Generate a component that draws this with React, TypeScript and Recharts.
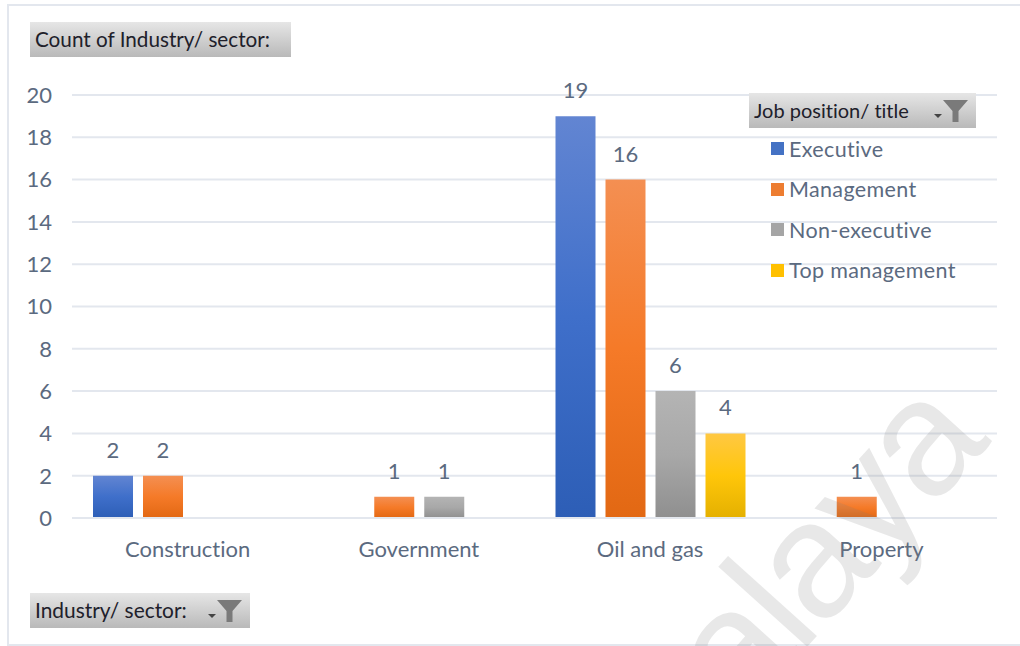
import { BarChart, Bar, XAxis, YAxis, CartesianGrid, LabelList } from 'recharts';

const categories = ['Construction', 'Government', 'Oil and gas', 'Property'];
const executive = [2, null, 19, null];
const management = [2, 1, 16, 1];
const nonExecutive = [null, 1, 6, null];
const topManagement = [null, null, 4, null];
const yTicks = [0, 2, 4, 6, 8, 10, 12, 14, 16, 18, 20];

const series = [
  { key: 'executive', label: 'Executive', values: executive, stops: ['#6285d2', '#3f6fca', '#2d5eb6'], swatch: '#4472c4' },
  { key: 'management', label: 'Management', values: management, stops: ['#f48f52', '#f57a28', '#e26813'], swatch: '#ed7d31' },
  { key: 'nonExecutive', label: 'Non-executive', values: nonExecutive, stops: ['#b4b4b4', '#a8a8a8', '#8f8f8f'], swatch: '#a5a5a5' },
  { key: 'topManagement', label: 'Top management', values: topManagement, stops: ['#ffc843', '#ffc60a', '#e4b000'], swatch: '#ffc000' },
];

const data = categories.map((name, i) => {
  const row: Record<string, string | number | null> = { name };
  series.forEach((s) => {
    row[s.key] = s.values[i];
  });
  return row;
});

const TEXT = '#5b6a80';
const GRID = '#e3e7ee';
const FONT = 'Lato, "Open Sans", sans-serif';

function FilterIcon() {
  return (
    <svg width="34" height="26" viewBox="0 0 34 26" style={{ display: 'block' }}>
      <path d="M0 16h8l-4 4z" fill="#444" />
      <path d="M9 2h25l-9.500 11v11h-6V13z" fill="#7a7a7a" />
    </svg>
  );
}

function PivotButton({ x, y, width, label, size, filter }: { x: number; y: number; width: number; label: string; size: number; filter?: boolean }) {
  return (
    <div
      style={{
        position: 'absolute',
        left: x,
        top: y,
        width,
        height: 35,
        boxSizing: 'border-box',
        paddingLeft: 5,
        background: 'linear-gradient(#e6e6e6, #b9b9b9)',
        color: '#20202a',
        fontFamily: FONT,
        fontSize: size,
        lineHeight: '34px',
        whiteSpace: 'nowrap',
      }}
    >
      {label}
      {filter && (
        <div style={{ position: 'absolute', right: 8, top: 5 }}>
          <FilterIcon />
        </div>
      )}
    </div>
  );
}

export default function App() {
  return (
    <div style={{ position: 'absolute', left: 0, top: 0, width: 1020, height: 646, overflow: 'hidden', background: '#fff', fontVariantLigatures: 'none' }}>
      <div style={{ position: 'absolute', left: 7, top: 4, width: 1020, height: 638, border: `2px solid ${GRID}` }} />
      <div style={{ position: 'absolute', left: 0, top: 0 }}>
        <BarChart
          width={1020}
          height={646}
          data={data}
          margin={{ top: 95, right: 23, bottom: 68, left: 0 }}
          barSize={40}
          barGap={10}
          barCategoryGap={20}
        >
          <defs>
            {series.map((s) => (
              <linearGradient key={s.key} id={`grad-${s.key}`} x1="0" y1="0" x2="0" y2="1">
                <stop offset="0%" stopColor={s.stops[0]} />
                <stop offset="50%" stopColor={s.stops[1]} />
                <stop offset="100%" stopColor={s.stops[2]} />
              </linearGradient>
            ))}
          </defs>
          <CartesianGrid stroke={GRID} strokeWidth={2} vertical={false} />
          <XAxis
            dataKey="name"
            height={60}
            tickLine={false}
            axisLine={{ stroke: GRID, strokeWidth: 2 }}
            tickMargin={17}
            tick={{ fill: TEXT, fontSize: 22, fontFamily: FONT }}
            interval={0}
          />
          <YAxis
            width={72}
            domain={[0, 20]}
            ticks={yTicks}
            tickLine={false}
            axisLine={false}
            tickMargin={14}
            tick={{ fill: TEXT, fontSize: 22, fontFamily: FONT }}
          />
          {series.map((s) => (
            <Bar key={s.key} dataKey={s.key} fill={`url(#grad-${s.key})`} isAnimationActive={false}>
              <LabelList dataKey={s.key} position="top" offset={18} fill={TEXT} fontSize={22} fontFamily={FONT} />
            </Bar>
          ))}
        </BarChart>
      </div>

      {/* legend list sits over the plot, under its filter button */}
      {series.map((s, i) => (
        <div
          key={s.key}
          style={{
            position: 'absolute',
            left: 771,
            top: 135.5 + i * 40.6,
            height: 26,
            display: 'flex',
            alignItems: 'center',
            color: TEXT,
            fontFamily: FONT,
            fontSize: 21.5,
            letterSpacing: 0.35,
            whiteSpace: 'nowrap',
          }}
        >
          <span style={{ width: 13, height: 13, background: s.swatch, marginRight: 5 }} />
          {s.label}
        </div>
      ))}

      <PivotButton x={30} y={22} width={261} size={20.7} label="Count of Industry/ sector:" />
      <PivotButton x={749} y={93} width={227} size={20} label="Job position/ title" filter />
      <PivotButton x={30} y={593} width={220} size={20.9} label="Industry/ sector:" filter />

      {/* diagonal watermark */}
      <svg width={1020} height={646} style={{ position: 'absolute', left: 0, top: 0, pointerEvents: 'none' }}>
        <text
          x={989}
          y={445}
          transform="rotate(-48 989 445)"
          textAnchor="end"
          fontFamily='"Liberation Sans", sans-serif'
          fontSize={165}
          letterSpacing={-5}
          fill="#808080"
          fillOpacity={0.18}
        >
          Malaya
        </text>
      </svg>
    </div>
  );
}
